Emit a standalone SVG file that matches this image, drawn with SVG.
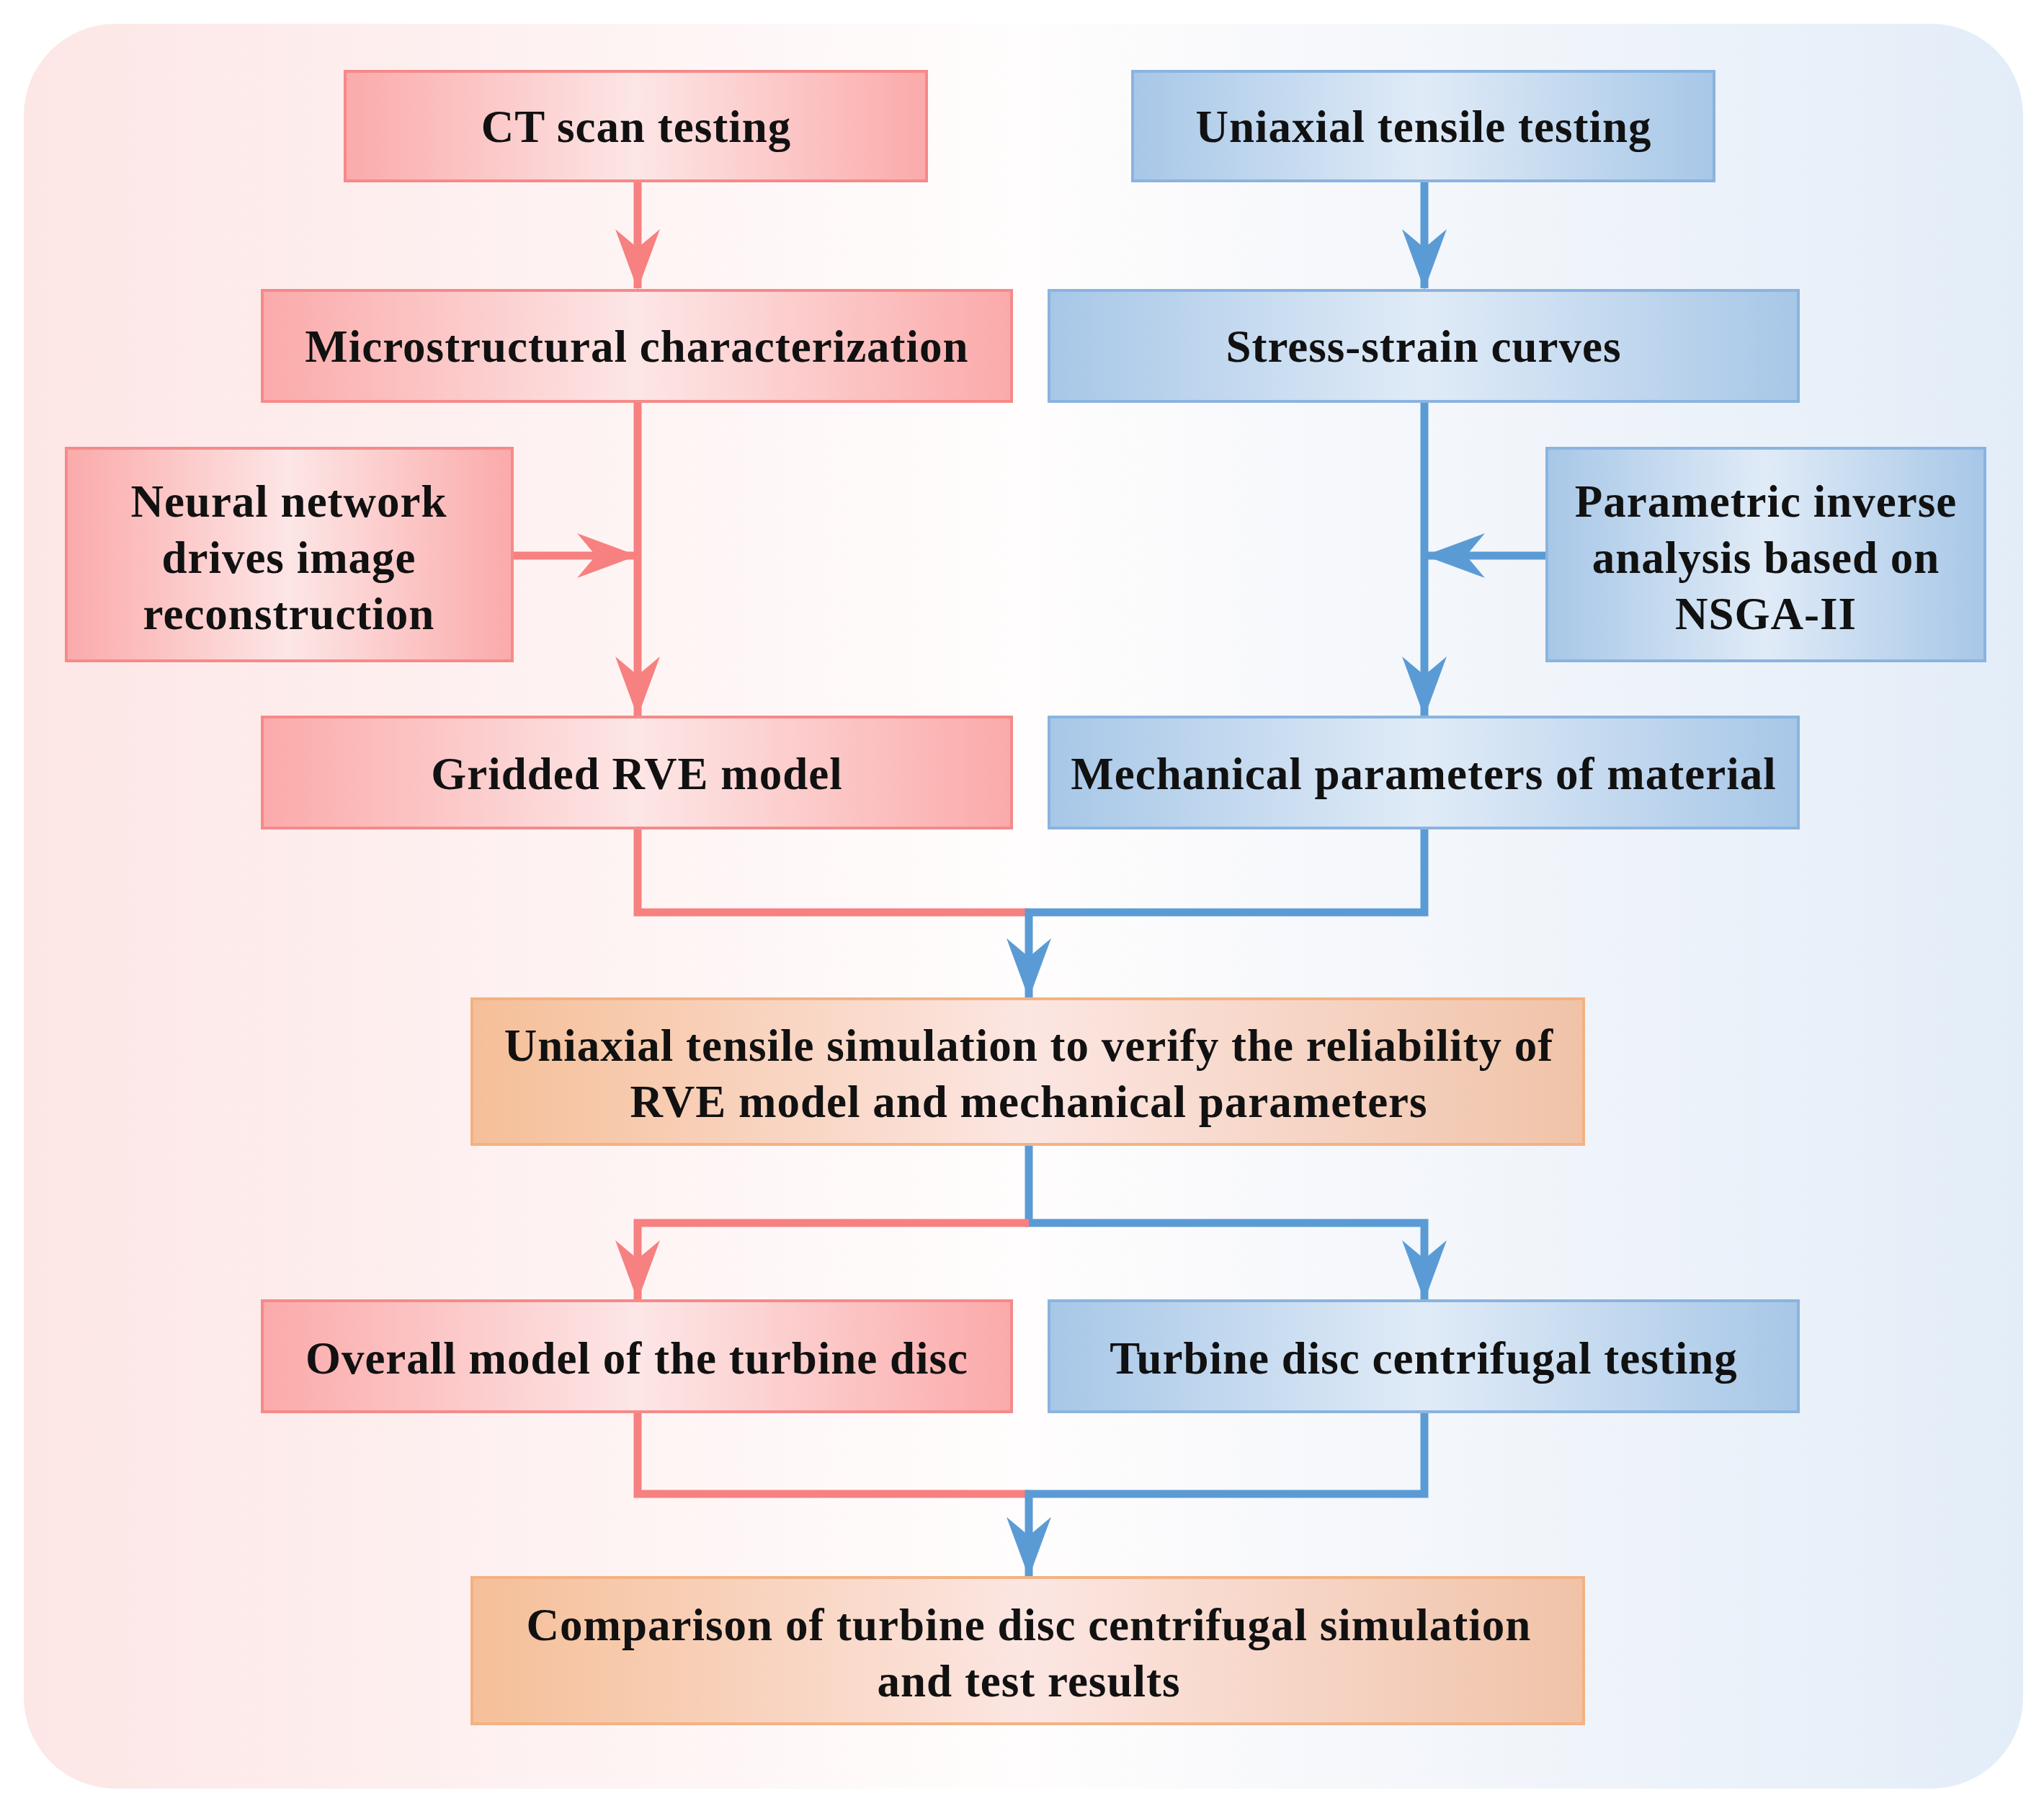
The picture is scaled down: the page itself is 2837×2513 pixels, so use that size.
<svg xmlns="http://www.w3.org/2000/svg" width="2837" height="2513" viewBox="0 0 2837 2513">
<style>
text{font-family:"Liberation Serif","Times New Roman",serif;font-weight:bold;font-size:63px;letter-spacing:1px;fill:#111;text-anchor:middle}
.r{fill:url(#gr);stroke:#f58a8a;stroke-width:4}
.b{fill:url(#gb);stroke:#8ab4e0;stroke-width:4}
.o{fill:url(#go);stroke:#f3b283;stroke-width:4}
.lr{fill:none;stroke:#f78080;stroke-width:11}
.lb{fill:none;stroke:#5b9bd5;stroke-width:11}
</style>
<defs>
<linearGradient id="bg" x1="0" x2="1"><stop offset="0" stop-color="#fde6e6"/><stop offset="0.5" stop-color="#fffdfd"/><stop offset="1" stop-color="#e3edf8"/></linearGradient>
<linearGradient id="gr" x1="0" x2="1"><stop offset="0" stop-color="#fbaaaa"/><stop offset="0.5" stop-color="#fde6e6"/><stop offset="1" stop-color="#fbaaaa"/></linearGradient>
<linearGradient id="gb" x1="0" x2="1"><stop offset="0" stop-color="#a7c7e7"/><stop offset="0.5" stop-color="#e0ebf7"/><stop offset="1" stop-color="#a7c7e7"/></linearGradient>
<linearGradient id="go" x1="0" x2="1"><stop offset="0" stop-color="#f5bf98"/><stop offset="0.5" stop-color="#fce6e2"/><stop offset="1" stop-color="#f0c3a8"/></linearGradient>
<marker id="ar" viewBox="0 0 84 62" refX="82" refY="31" markerWidth="84" markerHeight="62" markerUnits="userSpaceOnUse" orient="auto"><path d="M0,0 L84,31 L0,62 L26,31 Z" fill="#f78080"/></marker>
<marker id="ab" viewBox="0 0 84 62" refX="82" refY="31" markerWidth="84" markerHeight="62" markerUnits="userSpaceOnUse" orient="auto"><path d="M0,0 L84,31 L0,62 L26,31 Z" fill="#5b9bd5"/></marker>
</defs>
<rect x="33" y="33" width="2775" height="2449" rx="127" fill="url(#bg)"/>
<g id="connectors">
<path class="lr" d="M885,251 V400" marker-end="url(#ar)"/>
<path class="lr" d="M885,557 V993" marker-end="url(#ar)"/>
<path class="lr" d="M711,771 H883" marker-end="url(#ar)"/>
<path class="lb" d="M1977,251 V400" marker-end="url(#ab)"/>
<path class="lb" d="M1977,557 V993" marker-end="url(#ab)"/>
<path class="lb" d="M2147,771 H1979" marker-end="url(#ab)"/>
<path class="lr" d="M885,1149 V1266 H1428"/>
<path class="lb" d="M1977,1149 V1266 H1428 V1384" marker-end="url(#ab)"/>
<path class="lb" d="M1428,1588 V1697 H1977 V1803" marker-end="url(#ab)"/>
<path class="lr" d="M1428,1697 H885 V1803" marker-end="url(#ar)"/>
<path class="lr" d="M885,1959 V2073 H1428"/>
<path class="lb" d="M1977,1959 V2073 H1428 V2187" marker-end="url(#ab)"/>
</g>
<g id="ct"><rect class="r" x="479" y="99" width="807" height="152"/><text x="883" y="197">CT scan testing</text></g>
<g id="uniaxial"><rect class="b" x="1572" y="99" width="807" height="152"/><text x="1976" y="197">Uniaxial tensile testing</text></g>
<g id="micro"><rect class="r" x="364" y="403" width="1040" height="154"/><text x="884" y="502">Microstructural characterization</text></g>
<g id="stress"><rect class="b" x="1456" y="403" width="1040" height="154"/><text x="1976" y="502">Stress-strain curves</text></g>
<g id="neural"><rect class="r" x="92" y="622" width="619" height="295"/><text x="401" y="717">Neural network</text><text x="401" y="795">drives image</text><text x="401" y="873">reconstruction</text></g>
<g id="param"><rect class="b" x="2147" y="622" width="608" height="295"/><text x="2451" y="717">Parametric inverse</text><text x="2451" y="795">analysis based on</text><text x="2451" y="873">NSGA-II</text></g>
<g id="gridded"><rect class="r" x="364" y="995" width="1040" height="154"/><text x="884" y="1095">Gridded RVE model</text></g>
<g id="mech"><rect class="b" x="1456" y="995" width="1040" height="154"/><text x="1976" y="1095">Mechanical parameters of material</text></g>
<g id="sim"><rect class="o" x="655" y="1386" width="1543" height="202"/><text x="1428" y="1472">Uniaxial tensile simulation to verify the reliability of</text><text x="1428" y="1550">RVE model and mechanical parameters</text></g>
<g id="overall"><rect class="r" x="364" y="1805" width="1040" height="154"/><text x="884" y="1906">Overall model of the turbine disc</text></g>
<g id="turbine"><rect class="b" x="1456" y="1805" width="1040" height="154"/><text x="1976" y="1906">Turbine disc centrifugal testing</text></g>
<g id="comp"><rect class="o" x="655" y="2189" width="1543" height="203"/><text x="1428" y="2276">Comparison of turbine disc centrifugal simulation</text><text x="1428" y="2354">and test results</text></g>
</svg>
